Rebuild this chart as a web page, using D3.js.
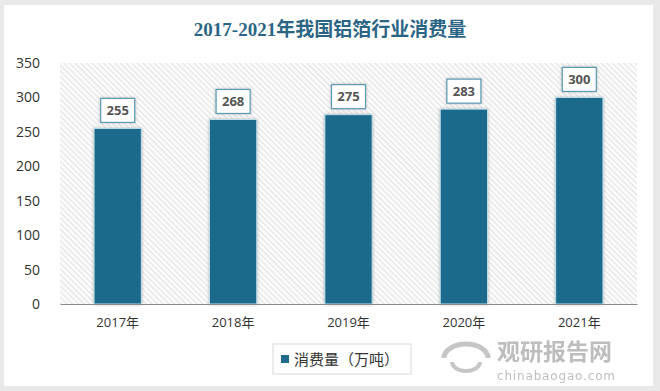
<!DOCTYPE html>
<html><head><meta charset="utf-8">
<script src="https://cdn.jsdelivr.net/npm/d3@7/dist/d3.min.js"></script>
<style>body{margin:0;background:#e9e9e9;}svg{display:block;}</style>
</head><body>
<svg id="c" width="660" height="391"></svg>
<script>
const title = "2017-2021年我国铝箔行业消费量";
const categories = ["2017年","2018年","2019年","2020年","2021年"];
const values = [255, 268, 275, 283, 300];
const seriesName = "消费量（万吨）";
const yTicks = [0,50,100,150,200,250,300,350];

(function(){
const svg = d3.select("#c");
const defs = svg.append("defs");
const pat = defs.append("pattern").attr("id","hatch").attr("patternUnits","userSpaceOnUse")
  .attr("width",4).attr("height",4).attr("patternTransform","rotate(-45)");
pat.append("rect").attr("width",4).attr("height",4).attr("fill","#fbfbfb");
pat.append("line").attr("x1",0).attr("y1",0).attr("x2",0).attr("y2",4).attr("stroke","#d4d4d4").attr("stroke-width",1.3);
const sh = defs.append("filter").attr("id","sh").attr("x","-20%").attr("y","-20%").attr("width","140%").attr("height","140%");
sh.append("feDropShadow").attr("dx",0).attr("dy",0).attr("stdDeviation",1.5).attr("flood-color","#888").attr("flood-opacity",0.6);

svg.append("rect").attr("width",660).attr("height",391).attr("fill","#e9e9e9");
svg.append("rect").attr("x",4).attr("y",5).attr("width",649).attr("height",381).attr("fill","#fff");

svg.append("text").attr("x",330).attr("y",36).attr("text-anchor","middle")
  .attr("font-family","'Liberation Serif','Noto Sans CJK SC',serif").attr("font-weight","bold")
  .attr("font-size",19).attr("fill","#2b6585").text(title);

const pl=60,pr=637,pt=63,pb=304;
const x = d3.scaleBand().domain(categories).range([pl,pr]).paddingInner(0.59).paddingOuter(0.295);
const y = d3.scaleLinear().domain([0,350]).range([pb,pt]);

svg.append("rect").attr("x",pl).attr("y",pt).attr("width",pr-pl).attr("height",pb-pt).attr("fill","url(#hatch)");

const yAxis = svg.append("g").attr("transform",`translate(${pl},0)`)
  .call(d3.axisLeft(y).tickValues(yTicks).tickSize(0).tickPadding(20));
yAxis.select(".domain").remove();
yAxis.selectAll("text").attr("font-family","'Open Sans','Noto Sans CJK SC',sans-serif").attr("font-size",14).attr("fill","#333");

svg.append("g").selectAll("rect").data(values).join("rect")
  .attr("x",(d,i)=>x(categories[i])).attr("y",d=>y(d))
  .attr("width",x.bandwidth()).attr("height",d=>pb-y(d))
  .attr("fill","#1d6a8b").attr("stroke","#bfe0ec").attr("stroke-width",1).attr("filter","url(#sh)");

const xAxis = svg.append("g").attr("transform",`translate(0,${pb})`)
  .call(d3.axisBottom(x).tickSize(0).tickPadding(14));
xAxis.select(".domain").attr("stroke","#8a8a8a");
xAxis.selectAll("text").attr("font-family","'Open Sans','Noto Sans CJK SC',sans-serif").attr("font-size",13).attr("fill","#333");

const lab = svg.append("g").selectAll("g").data(values).join("g")
  .attr("transform",(d,i)=>`translate(${x(categories[i])+x.bandwidth()/2},${y(d)-18})`);
lab.append("rect").attr("x",-17).attr("y",-12).attr("width",34).attr("height",24)
  .attr("fill","#fff").attr("stroke","#5a9cb5").attr("stroke-width",1.2).attr("filter","url(#sh)");
lab.append("text").attr("text-anchor","middle").attr("dy","0.36em")
  .attr("font-family","'Open Sans',sans-serif").attr("font-weight","bold").attr("font-size",13).attr("fill","#555").text(d=>d);

const lg = svg.append("g");
lg.append("rect").attr("x",273).attr("y",344).attr("width",138).attr("height",30).attr("fill","#fff").attr("stroke","#d8d8d8");
lg.append("rect").attr("x",281).attr("y",355).attr("width",8).attr("height",8).attr("fill","#1d6a8b");
lg.append("text").attr("x",294).attr("y",365).attr("font-family","'Noto Sans CJK SC',sans-serif").attr("font-size",15).attr("fill","#333").text(seriesName);

const wm = svg.append("g").attr("opacity",0.55);
wm.append("path").attr("d","M444,358 A22,14 0 1 1 488,358").attr("fill","none").attr("stroke","#999").attr("stroke-width",5);
wm.append("path").attr("d","M452,362 A14,9 0 1 0 480,362").attr("fill","none").attr("stroke","#999").attr("stroke-width",4);
wm.append("text").attr("x",497).attr("y",360).attr("font-family","'Noto Sans CJK SC',sans-serif").attr("font-weight","bold").attr("font-size",23).attr("fill","#888").text("观研报告网");
wm.append("text").attr("x",497).attr("y",380).attr("font-family","'DejaVu Sans',sans-serif").attr("font-size",12).attr("fill","#888").attr("textLength",118).text("chinabaogao.com");
})();
</script>
</body></html>
